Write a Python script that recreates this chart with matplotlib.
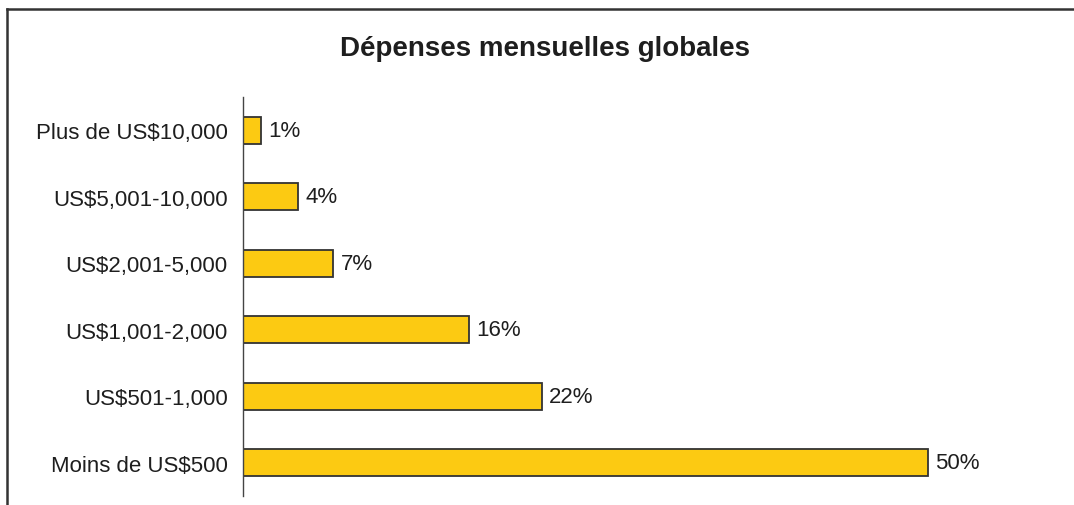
import matplotlib
matplotlib.use("Agg")
import matplotlib.pyplot as plt
from matplotlib.lines import Line2D

plt.rcParams['font.family'] = ['Liberation Sans', 'DejaVu Sans']

categories = ["Moins de US$500", "US$501-1,000", "US$1,001-2,000",
              "US$2,001-5,000", "US$5,001-10,000", "Plus de US$10,000"]
# bar lengths (labels show rounded values)
values = [50.0, 21.8, 16.5, 6.6, 4.0, 1.3]
labels = ["50%", "22%", "16%", "7%", "4%", "1%"]

W, H = 1074, 506
fig = plt.figure(figsize=(W / 100, H / 100), dpi=100)
ax = fig.add_axes([243 / W, 9 / H, 760 / W, (497 - 98) / H])

ypos = list(range(len(categories)))
ax.barh(ypos, values, height=0.41, color="#FCCA12", edgecolor="#333333", linewidth=1.3)
for y, v, t in zip(ypos, values, labels):
    ax.text(v + 0.55, y, t, va="center", ha="left", fontsize=16, color="#1e1e1e")

ax.set_xlim(0, 760 / 13.7)
ax.set_ylim(-0.5, len(categories) - 0.5)
ax.set_yticks(ypos)
ax.set_yticklabels(categories, fontsize=16, color="#1e1e1e")
ax.tick_params(axis="y", length=0, pad=11)
ax.set_xticks([])
for s in ["top", "right", "bottom"]:
    ax.spines[s].set_visible(False)
ax.spines["left"].set_color("#444444")
ax.spines["left"].set_linewidth(1.0)

fig.text(545 / W, 1 - 49 / H, "Dépenses mensuelles globales", ha="center", va="center",
         fontsize=20, fontweight="bold", color="#1e1e1e")

# outer frame (left and top edges visible)
fig.add_artist(Line2D([7 / W, 7 / W], [0, 1 - 10 / H], transform=fig.transFigure,
                      color="#333333", linewidth=1.8))
fig.add_artist(Line2D([7 / W, 1], [1 - 10 / H, 1 - 10 / H], transform=fig.transFigure,
                      color="#333333", linewidth=1.8))

fig.savefig("out.png", dpi=100)
